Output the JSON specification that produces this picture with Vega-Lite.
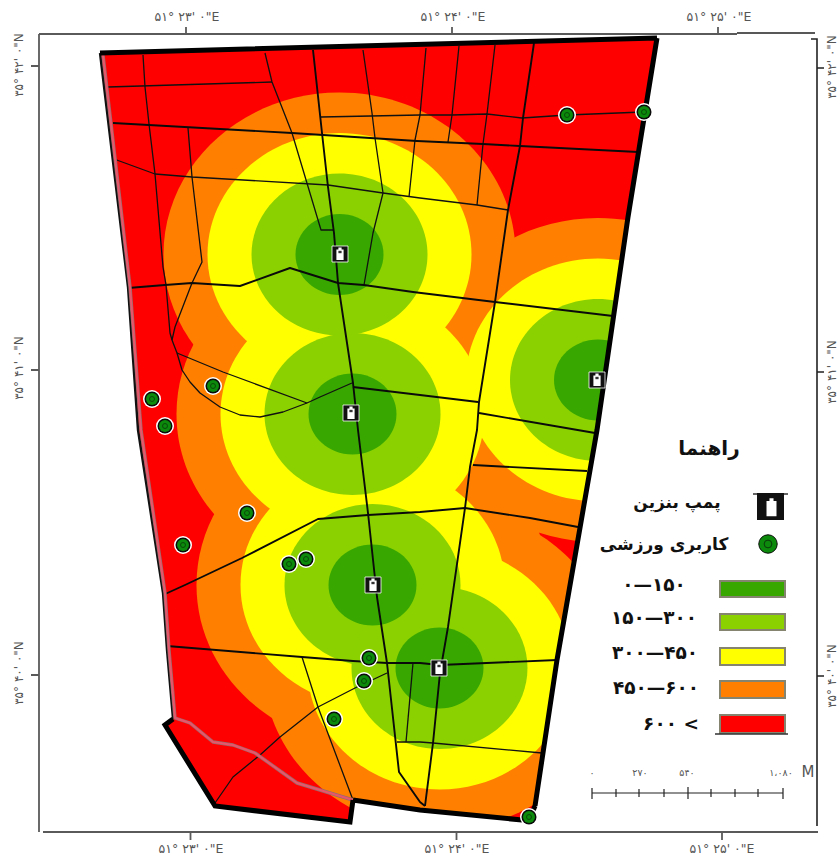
{
"$schema":"https://vega.github.io/schema/vega-lite/v6.json",
"width":838,"height":859,"padding":0,"autosize":{"type":"fit","contains":"padding"},"background":"white",
"config":{"view":{"stroke":null},"text":{"font":"DejaVu Sans"}},
"projection":{"type":"identity","scale":1,"translate":[0,0]},
"datasets":{
"zones":[
{"station":"P1","x":339.5,"y":254.5,"dist":600,"band":"۴۵۰—۶۰۰"},{"station":"P2","x":352.5,"y":414,"dist":600,"band":"۴۵۰—۶۰۰"},{"station":"P3","x":372.5,"y":585,"dist":600,"band":"۴۵۰—۶۰۰"},{"station":"P4","x":439.5,"y":668,"dist":600,"band":"۴۵۰—۶۰۰"},{"station":"P5","x":598,"y":380,"dist":600,"band":"۴۵۰—۶۰۰"},
{"station":"P1","x":339.5,"y":254.5,"dist":450,"band":"۳۰۰—۴۵۰"},{"station":"P2","x":352.5,"y":414,"dist":450,"band":"۳۰۰—۴۵۰"},{"station":"P3","x":372.5,"y":585,"dist":450,"band":"۳۰۰—۴۵۰"},{"station":"P4","x":439.5,"y":668,"dist":450,"band":"۳۰۰—۴۵۰"},{"station":"P5","x":598,"y":380,"dist":450,"band":"۳۰۰—۴۵۰"},
{"station":"P1","x":339.5,"y":254.5,"dist":300,"band":"۱۵۰—۳۰۰"},{"station":"P2","x":352.5,"y":414,"dist":300,"band":"۱۵۰—۳۰۰"},{"station":"P3","x":372.5,"y":585,"dist":300,"band":"۱۵۰—۳۰۰"},{"station":"P4","x":439.5,"y":668,"dist":300,"band":"۱۵۰—۳۰۰"},{"station":"P5","x":598,"y":380,"dist":300,"band":"۱۵۰—۳۰۰"},
{"station":"P1","x":339.5,"y":254.5,"dist":150,"band":"۰—۱۵۰"},{"station":"P2","x":352.5,"y":414,"dist":150,"band":"۰—۱۵۰"},{"station":"P3","x":372.5,"y":585,"dist":150,"band":"۰—۱۵۰"},{"station":"P4","x":439.5,"y":668,"dist":150,"band":"۰—۱۵۰"},{"station":"P5","x":598,"y":380,"dist":150,"band":"۰—۱۵۰"}
],
"pumps":[{"x":340,"y":254},{"x":351,"y":413},{"x":373,"y":585},{"x":439,"y":668},{"x":597,"y":380}],
"sports":[{"x":152,"y":399},{"x":165,"y":426},{"x":213,"y":386},{"x":247,"y":513},{"x":183,"y":545},{"x":289,"y":564},{"x":306,"y":559},{"x":369,"y":658},{"x":364,"y":681},{"x":334,"y":719},{"x":567,"y":115},{"x":644,"y":112},{"x":529,"y":817}],
"ticksFrame":[
{"type":"Feature","properties":{},"geometry":{"type":"MultiLineString","coordinates":[[[39,34],[737,34]],[[39,34],[39,832]],[[43,832],[737,832]],[[186,27],[186,34]],[[452,27],[452,34]],[[718,27],[718,34]],[[31,66],[39,66]],[[31,370],[39,370]],[[31,675],[39,675]],[[190.5,832],[190.5,840]],[[456.5,832],[456.5,840]],[[722,832],[722,840]]]}}
],
"ticksFrame2":[
{"type":"Feature","properties":{},"geometry":{"type":"MultiLineString","coordinates":[[[737,33],[815,33]],[[737,832],[818,832]],[[811,39],[817,39],[817,826]],[[817,68],[824,68]],[[817,372],[824,372]],[[817,676],[824,676]]]}}
],
"scalebar":[
{"type":"Feature","properties":{},"geometry":{"type":"MultiLineString","coordinates":[[[592,793],[783,793]],[[592,788],[592,799]],[[616,789],[616,797]],[[639,789],[639,797]],[[664,789],[664,797]],[[688,787],[688,799]],[[711,789],[711,797]],[[735,789],[735,797]],[[758,789],[758,797]],[[783,788],[783,799]]]}}
],
"minorRoads":[
{"type":"Feature","properties":{"id":"R1"},"geometry":{"type":"LineString","coordinates":[[143,55],[145,87],[149,124],[155,174],[163,267],[166,285],[170,333],[172,340],[177,353],[182,370],[190,382],[200,393],[220,407],[240,415],[260,417],[283,412],[307,403],[320,397],[352,383]]}},
{"type":"Feature","properties":{"id":"R2"},"geometry":{"type":"LineString","coordinates":[[108,87],[272,82]]}},
{"type":"Feature","properties":{"id":"R3"},"geometry":{"type":"LineString","coordinates":[[265,53],[272,82],[292,133],[321,230],[333,230]]}},
{"type":"Feature","properties":{"id":"R5"},"geometry":{"type":"LineString","coordinates":[[363,50],[372,113],[375,138],[383,193],[373,233],[364,285]]}},
{"type":"Feature","properties":{"id":"R7"},"geometry":{"type":"LineString","coordinates":[[114,159],[155,174],[192,177],[328,185],[383,193],[420,198],[477,205],[508,210]]}},
{"type":"Feature","properties":{"id":"R8"},"geometry":{"type":"LineString","coordinates":[[188,128],[192,177],[202,262],[192,283],[175,327],[172,340]]}},
{"type":"Feature","properties":{"id":"R10"},"geometry":{"type":"LineString","coordinates":[[177,353],[223,372],[307,403]]}},
{"type":"Feature","properties":{"id":"R12"},"geometry":{"type":"LineString","coordinates":[[459,46],[452,115],[448,142]]}},
{"type":"Feature","properties":{"id":"R13"},"geometry":{"type":"LineString","coordinates":[[495,45],[487,114],[483,144],[477,205]]}},
{"type":"Feature","properties":{"id":"R15"},"geometry":{"type":"LineString","coordinates":[[321,117],[420,115],[452,115],[487,114],[522,118],[567,115],[643,112]]}},
{"type":"Feature","properties":{"id":"R16"},"geometry":{"type":"LineString","coordinates":[[426,48],[420,115],[415,140],[409,197]]}},
{"type":"Feature","properties":{"id":"R22"},"geometry":{"type":"LineString","coordinates":[[302,657],[318,707],[353,800]]}},
{"type":"Feature","properties":{"id":"R23"},"geometry":{"type":"LineString","coordinates":[[215,803],[233,777],[260,755],[280,737],[318,707],[355,688],[387,673]]}},
{"type":"Feature","properties":{"id":"R24"},"geometry":{"type":"LineString","coordinates":[[397,742],[420,742],[433,743],[542,753]]}},
{"type":"Feature","properties":{"id":"R25"},"geometry":{"type":"LineString","coordinates":[[413,663],[406,742]]}}
],
"mainRoads":[
{"type":"Feature","properties":{"id":"R4"},"geometry":{"type":"LineString","coordinates":[[313,50],[322,133],[328,187],[334,233],[338,283],[353,383],[358,430],[368,513],[377,597],[387,663],[399,772],[420,802],[425,806]]}},
{"type":"Feature","properties":{"id":"R6"},"geometry":{"type":"LineString","coordinates":[[113,123],[292,133],[417,141],[483,144],[520,146],[638,152]]}},
{"type":"Feature","properties":{"id":"R9"},"geometry":{"type":"LineString","coordinates":[[128,288],[165,285],[192,283],[240,286],[290,268],[338,283],[364,285],[413,292],[495,302],[613,316]]}},
{"type":"Feature","properties":{"id":"R11"},"geometry":{"type":"LineString","coordinates":[[353,387],[420,395],[478,402]]}},
{"type":"Feature","properties":{"id":"R14"},"geometry":{"type":"LineString","coordinates":[[534,43],[523,118],[520,146],[508,210],[495,302],[479,402],[477,430],[470,467],[465,508],[448,627],[440,673],[433,743],[425,806]]}},
{"type":"Feature","properties":{"id":"R18"},"geometry":{"type":"LineString","coordinates":[[479,413],[595,433]]}},
{"type":"Feature","properties":{"id":"R19"},"geometry":{"type":"LineString","coordinates":[[473,465],[587,471]]}},
{"type":"Feature","properties":{"id":"R20"},"geometry":{"type":"LineString","coordinates":[[163,595],[185,585],[242,558],[318,519],[368,515],[420,512],[465,508],[530,518],[578,527]]}},
{"type":"Feature","properties":{"id":"R21"},"geometry":{"type":"LineString","coordinates":[[167,646],[302,657],[353,661],[387,663],[420,663],[440,665],[557,660]]}}
],
"swatches":[
{"type":"Feature","properties":{"band":"۰—۱۵۰"},"geometry":{"type":"Polygon","coordinates":[[[720,581],[785,581],[785,597],[720,597],[720,581]]]}},
{"type":"Feature","properties":{"band":"۱۵۰—۳۰۰"},"geometry":{"type":"Polygon","coordinates":[[[720,614],[785,614],[785,630],[720,630],[720,614]]]}},
{"type":"Feature","properties":{"band":"۳۰۰—۴۵۰"},"geometry":{"type":"Polygon","coordinates":[[[720,648],[785,648],[785,665],[720,665],[720,648]]]}},
{"type":"Feature","properties":{"band":"۴۵۰—۶۰۰"},"geometry":{"type":"Polygon","coordinates":[[[720,681],[785,681],[785,698],[720,698],[720,681]]]}},
{"type":"Feature","properties":{"band":"< ۶۰۰"},"geometry":{"type":"Polygon","coordinates":[[[720,715],[785,715],[785,733],[720,733],[720,715]]]}}
],
"legendText":[
{"x":654,"y":585,"t":"۰—۱۵۰"},{"x":654,"y":618,"t":"۱۵۰—۳۰۰"},{"x":655,"y":653,"t":"۳۰۰—۴۵۰"},{"x":656,"y":688,"t":"۴۵۰—۶۰۰"},{"x":671,"y":724,"t":"\u200e۶۰۰ <\u200e"}
]
},
"layer":[
{"data":{"values":[{"type":"Feature","properties":{"band":"< ۶۰۰"},"geometry":{"type":"Polygon","coordinates":[[[100,53],[128,287],[138,430],[163,593],[167,650],[173,719],[165,725],[215,806],[350,822],[353,800],[420,810],[520,821],[535,806],[557,660],[597,430],[628,217],[657,38],[100,53]]]}}]},
 "mark":{"type":"geoshape"},
 "encoding":{"color":{"field":"properties.band","type":"nominal","legend":null,"scale":{"domain":["۰—۱۵۰","۱۵۰—۳۰۰","۳۰۰—۴۵۰","۴۵۰—۶۰۰","< ۶۰۰"],"range":["#38a800","#8bd100","#ffff00","#ff8000","#ff0000"]}}}},
{"data":{"name":"zones"},
 "mark":{"type":"point","filled":true,"opacity":1,"strokeWidth":0,"shape":"M-1,0C-1,-0.508,-0.552,-0.92,0,-0.92C0.552,-0.92,1,-0.508,1,0C1,0.508,0.552,0.92,0,0.92C-0.552,0.92,-1,0.508,-1,0Z"},
 "encoding":{"longitude":{"field":"x","type":"quantitative"},"latitude":{"field":"y","type":"quantitative"},
  "size":{"field":"dist","type":"quantitative","legend":null,"scale":{"type":"pow","exponent":2,"domain":[0,600],"range":[0,123904]}},
  "color":{"field":"band","type":"nominal","legend":null},
  "order":{"field":"dist","sort":"descending"}}},
{"data":{"values":[{"type":"Feature","properties":{},"geometry":{"type":"Polygon","coordinates":[[[0,0],[838,0],[838,859],[0,859],[0,0]],[[100,53],[128,287],[138,430],[163,593],[167,650],[173,719],[165,725],[215,806],[350,822],[353,800],[420,810],[520,821],[535,806],[557,660],[597,430],[628,217],[657,38],[100,53]]]}}]},
 "mark":{"type":"geoshape","fill":"white","stroke":null},"encoding":{}},
{"data":{"name":"minorRoads"},"mark":{"type":"geoshape","filled":false,"fill":null,"stroke":"#111111","strokeWidth":1.3,"strokeJoin":"round"},"encoding":{}},
{"data":{"name":"mainRoads"},"mark":{"type":"geoshape","filled":false,"fill":null,"stroke":"#0a0a0a","strokeWidth":1.9,"strokeJoin":"round"},"encoding":{}},
{"data":{"values":[{"type":"Feature","properties":{},"geometry":{"type":"LineString","coordinates":[[100,53],[128,287],[138,430],[163,593],[167,650],[173,719]]}}]},"mark":{"type":"geoshape","filled":false,"fill":null,"stroke":"#111111","strokeWidth":2.4},"encoding":{}},
{"data":{"values":[{"type":"Feature","properties":{},"geometry":{"type":"LineString","coordinates":[[103,55],[130,287],[141,430],[165,593],[169,650],[175,718],[190,723],[213,742],[233,745],[255,753],[297,783],[353,800]]}}]},"mark":{"type":"geoshape","filled":false,"fill":null,"stroke":"#9a6a6a","strokeWidth":3.4,"strokeJoin":"round"},"encoding":{}},
{"data":{"values":[{"type":"Feature","properties":{},"geometry":{"type":"LineString","coordinates":[[103,55],[130,287],[141,430],[165,593],[169,650],[175,718],[190,723],[213,742],[233,745],[255,753],[297,783],[353,800]]}}]},"mark":{"type":"geoshape","filled":false,"fill":null,"stroke":"#e8566c","strokeWidth":2,"strokeJoin":"round"},"encoding":{}},
{"data":{"values":[{"type":"Feature","properties":{},"geometry":{"type":"MultiLineString","coordinates":[[[100,53],[657,38]],[[657,38],[628,217],[597,430],[557,660],[535,806]],[[535,806],[529,820]],[[522,820],[420,810],[353,800]],[[353,800],[350,822],[215,806],[165,725],[173,719]]]}}]},"mark":{"type":"geoshape","filled":false,"fill":null,"stroke":"#000000","strokeWidth":5,"strokeJoin":"miter"},"encoding":{}},
{"data":{"name":"ticksFrame"},"mark":{"type":"geoshape","filled":false,"fill":null,"stroke":"#5a5a5a","strokeWidth":1.8},"encoding":{}},
{"data":{"name":"ticksFrame2"},"mark":{"type":"geoshape","filled":false,"fill":null,"stroke":"#222222","strokeWidth":1.6},"encoding":{}},
{"data":{"name":"scalebar"},"mark":{"type":"geoshape","filled":false,"fill":null,"stroke":"#222222","strokeWidth":1.2},"encoding":{}},
{"data":{"name":"swatches"},"mark":{"type":"geoshape","stroke":"#85856f","strokeWidth":2},"encoding":{"color":{"field":"properties.band","type":"nominal","legend":null}}},
{"data":{"values":[{"type":"Feature","properties":{},"geometry":{"type":"MultiLineString","coordinates":[[[715,734],[788,734]],[[753,494],[788,494]]]}}]},"mark":{"type":"geoshape","filled":false,"fill":null,"stroke":"#333333","strokeWidth":1.6},"encoding":{}},
{"data":{"name":"sports"},"mark":{"type":"point","shape":"circle","filled":true,"opacity":1,"fill":"white","size":324},"encoding":{"longitude":{"field":"x","type":"quantitative"},"latitude":{"field":"y","type":"quantitative"}}},
{"data":{"name":"sports"},"mark":{"type":"point","shape":"circle","filled":true,"opacity":1,"fill":"#0a0a0a","size":225},"encoding":{"longitude":{"field":"x","type":"quantitative"},"latitude":{"field":"y","type":"quantitative"}}},
{"data":{"name":"sports"},"mark":{"type":"point","shape":"circle","filled":true,"opacity":1,"fill":"#0b8a0b","size":144},"encoding":{"longitude":{"field":"x","type":"quantitative"},"latitude":{"field":"y","type":"quantitative"}}},
{"data":{"name":"sports"},"mark":{"type":"point","shape":"circle","filled":false,"opacity":1,"stroke":"#0a3a0a","strokeWidth":0.8,"size":25},"encoding":{"longitude":{"field":"x","type":"quantitative"},"latitude":{"field":"y","type":"quantitative"}}},
{"data":{"values":[{"x":768,"y":544}]},"mark":{"type":"point","shape":"circle","filled":true,"opacity":1,"fill":"#0b8a0b","stroke":"#0a0a0a","strokeWidth":1,"size":340},"encoding":{"longitude":{"field":"x","type":"quantitative"},"latitude":{"field":"y","type":"quantitative"}}},
{"data":{"values":[{"x":768,"y":544}]},"mark":{"type":"point","shape":"circle","filled":false,"opacity":1,"stroke":"#0a3a0a","strokeWidth":1,"size":60},"encoding":{"longitude":{"field":"x","type":"quantitative"},"latitude":{"field":"y","type":"quantitative"}}},
{"data":{"name":"pumps"},"mark":{"type":"point","shape":"square","filled":true,"opacity":1,"fill":"#111111","stroke":"white","strokeWidth":0.8,"size":256},"encoding":{"longitude":{"field":"x","type":"quantitative"},"latitude":{"field":"y","type":"quantitative"}}},
{"data":{"name":"pumps"},"mark":{"type":"point","filled":true,"opacity":1,"fill":"white","strokeWidth":0,"size":256,"shape":"M-0.45,-0.55L-0.2,-0.55L-0.2,-0.8L0.2,-0.8L0.2,-0.55L0.45,-0.55L0.45,0.75L-0.45,0.75Z"},"encoding":{"longitude":{"field":"x","type":"quantitative"},"latitude":{"field":"y","type":"quantitative"}}},
{"data":{"name":"pumps"},"mark":{"type":"point","filled":true,"opacity":1,"fill":"#333333","strokeWidth":0,"size":256,"shape":"M-0.2,-0.4L0.2,-0.4L0.2,-0.1L-0.2,-0.1Z"},"encoding":{"longitude":{"field":"x","type":"quantitative"},"latitude":{"field":"y","type":"quantitative"}}},
{"data":{"values":[{"x":770.5,"y":506.5}]},"mark":{"type":"point","shape":"square","filled":true,"opacity":1,"fill":"#111111","strokeWidth":0,"size":729},"encoding":{"longitude":{"field":"x","type":"quantitative"},"latitude":{"field":"y","type":"quantitative"}}},
{"data":{"values":[{"x":771.5,"y":507}]},"mark":{"type":"point","filled":true,"opacity":1,"fill":"white","strokeWidth":0,"size":729,"shape":"M-0.37,-0.45L-0.15,-0.45L-0.15,-0.65L0.15,-0.65L0.15,-0.45L0.37,-0.45L0.37,0.68L-0.37,0.68Z"},"encoding":{"longitude":{"field":"x","type":"quantitative"},"latitude":{"field":"y","type":"quantitative"}}},
{"data":{"values":[{"x":187,"y":17,"t":"۵۱° ۲۳' ۰\"E"},{"x":453,"y":17,"t":"۵۱° ۲۴' ۰\"E"},{"x":719,"y":17,"t":"۵۱° ۲۵' ۰\"E"},{"x":191,"y":849,"t":"۵۱° ۲۳' ۰\"E"},{"x":457,"y":849,"t":"۵۱° ۲۴' ۰\"E"},{"x":722,"y":849,"t":"۵۱° ۲۵' ۰\"E"}]},
 "mark":{"type":"text","fontSize":12.5,"color":"#555555","align":"center","baseline":"middle"},
 "encoding":{"longitude":{"field":"x","type":"quantitative"},"latitude":{"field":"y","type":"quantitative"},"text":{"field":"t"}}},
{"data":{"values":[{"x":19,"y":65,"t":"۳۵° ۴۲' ۰\"N"},{"x":19,"y":368,"t":"۳۵° ۴۱' ۰\"N"},{"x":19,"y":673,"t":"۳۵° ۴۰' ۰\"N"},{"x":832,"y":67,"t":"۳۵° ۴۲' ۰\"N"},{"x":832,"y":372,"t":"۳۵° ۴۱' ۰\"N"},{"x":832,"y":676,"t":"۳۵° ۴۰' ۰\"N"}]},
 "mark":{"type":"text","fontSize":12,"color":"#555555","align":"center","baseline":"middle","angle":270},
 "encoding":{"longitude":{"field":"x","type":"quantitative"},"latitude":{"field":"y","type":"quantitative"},"text":{"field":"t"}}},
{"data":{"values":[{"x":709,"y":449,"t":"راهنما"}]},"mark":{"type":"text","fontSize":20,"fontWeight":"bold","color":"#111111","align":"center","baseline":"middle"},
 "encoding":{"longitude":{"field":"x","type":"quantitative"},"latitude":{"field":"y","type":"quantitative"},"text":{"field":"t"}}},
{"data":{"values":[{"x":677,"y":503,"t":"پمپ بنزین"},{"x":664,"y":545,"t":"کاربری ورزشی"}]},"mark":{"type":"text","fontSize":17,"fontWeight":"bold","color":"#111111","align":"center","baseline":"middle"},
 "encoding":{"longitude":{"field":"x","type":"quantitative"},"latitude":{"field":"y","type":"quantitative"},"text":{"field":"t"}}},
{"data":{"name":"legendText"},"mark":{"type":"text","fontSize":18.5,"fontWeight":"bold","color":"#111111","align":"center","baseline":"middle"},
 "encoding":{"longitude":{"field":"x","type":"quantitative"},"latitude":{"field":"y","type":"quantitative"},"text":{"field":"t"}}},
{"data":{"values":[{"x":592,"y":773,"t":"۰"},{"x":640,"y":773,"t":"۲۷۰"},{"x":687,"y":773,"t":"۵۴۰"},{"x":781,"y":773,"t":"۱،۰۸۰"}]},"mark":{"type":"text","fontSize":9.5,"color":"#555555","align":"center","baseline":"middle"},
 "encoding":{"longitude":{"field":"x","type":"quantitative"},"latitude":{"field":"y","type":"quantitative"},"text":{"field":"t"}}},
{"data":{"values":[{"x":808,"y":772,"t":"M"}]},"mark":{"type":"text","fontSize":15,"color":"#555555","align":"center","baseline":"middle"},
 "encoding":{"longitude":{"field":"x","type":"quantitative"},"latitude":{"field":"y","type":"quantitative"},"text":{"field":"t"}}}
]
}
